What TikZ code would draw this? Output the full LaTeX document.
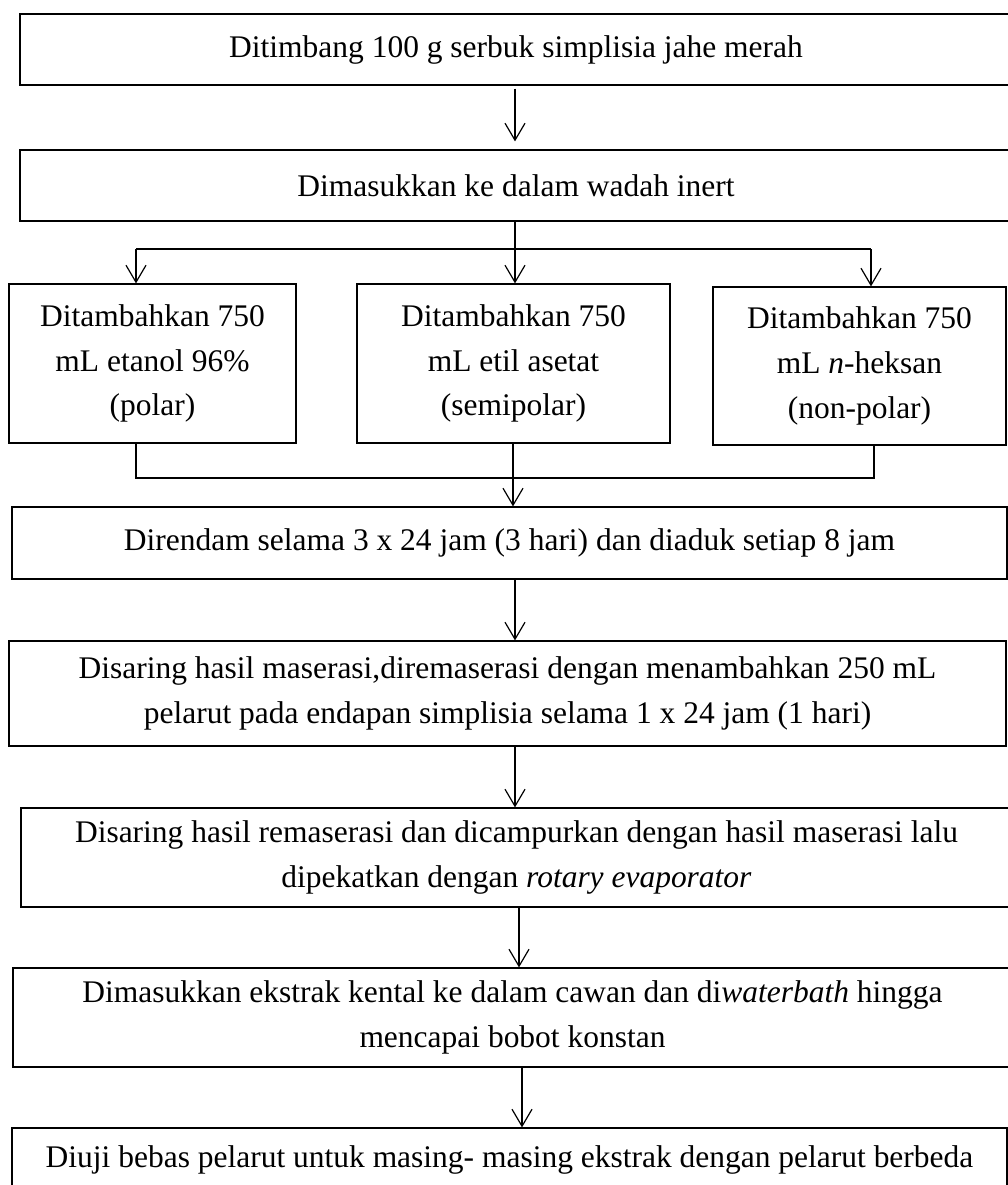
\documentclass[tikz,border=0pt]{standalone}
\usepackage{fontspec}
\setmainfont{Liberation Serif}
\usetikzlibrary{arrows.meta,shapes}
\tikzset{
  stepbox/.style={draw,rectangle,line width=1.2bp,align=center,inner sep=0pt,
    font=\fontsize{31.6}{45}\selectfont},
  flow/.style={line width=1.2bp,-{Straight Barb[length=17bp,width=20bp]}},
  link/.style={line width=1.2bp}
}
\begin{document}
\begin{tikzpicture}

\clip (0bp,0bp) rectangle (1008bp,-1185bp);

\node (S1) at (516bp,-49.5bp)[stepbox,minimum width=992bp,minimum height=71bp] {Ditimbang 100 g serbuk simplisia jahe merah};
\node (S2) at (516bp,-185.5bp)[stepbox,minimum width=992bp,minimum height=71bp] {Dimasukkan ke dalam wadah inert};
\node (P1) at (152.5bp,-363.5bp)[stepbox,minimum width=287bp,minimum height=159bp] {Ditambahkan 750\\ mL etanol 96\%\\ (polar)};
\node (P2) at (513.5bp,-363.5bp)[stepbox,minimum width=313bp,minimum height=159bp] {Ditambahkan 750\\ mL etil asetat\\ (semipolar)};
\node (P3) at (859.5bp,-366bp)[stepbox,minimum width=293bp,minimum height=158bp] {Ditambahkan 750\\ mL \textit{n}-heksan\\ (non-polar)};
\node (S3) at (509.5bp,-543bp)[stepbox,minimum width=995bp,minimum height=72bp] {Direndam selama 3 x 24 jam (3 hari) dan diaduk setiap 8 jam};
\node (S4) at (507.5bp,-693.5bp)[stepbox,minimum width=997bp,minimum height=105bp] {Disaring hasil maserasi,diremaserasi dengan menambahkan 250 mL\\ pelarut pada endapan simplisia selama 1 x 24 jam (1 hari)};
\node (S5) at (516.5bp,-857.5bp)[stepbox,minimum width=991bp,minimum height=99bp] {Disaring hasil remaserasi dan dicampurkan dengan hasil maserasi lalu\\ dipekatkan dengan \textit{rotary evaporator}};
\node (S6) at (512.5bp,-1017.5bp)[stepbox,minimum width=999bp,minimum height=99bp] {Dimasukkan ekstrak kental ke dalam cawan dan di\textit{waterbath} hingga\\ mencapai bobot konstan};
\node (S7) at (509.5bp,-1160bp)[stepbox,minimum width=995bp,minimum height=64bp] {Diuji bebas pelarut untuk masing- masing ekstrak dengan pelarut berbeda};

% split and join points
\coordinate (splitL) at (136bp,-249bp);
\coordinate (splitM) at (515bp,-249bp);
\coordinate (splitR) at (871bp,-249bp);
\coordinate (joinL) at (136bp,-478bp);
\coordinate (joinM) at (513bp,-478bp);
\coordinate (joinR) at (874bp,-478bp);
\coordinate (colA) at (515bp,0bp);
\coordinate (colB) at (519bp,0bp);
\coordinate (colC) at (522bp,0bp);

\draw [flow,shorten <=3bp,shorten >=8bp] (S1.south -| colA) to (S2.north -| colA);
\draw [link] (S2.south -| splitM) to (splitM);
\draw [link] (splitL) to (splitR);
\draw [flow] (splitL) to (P1.north -| splitL);
\draw [flow] (splitM) to (P2.north -| splitM);
\draw [flow] (splitR) to (P3.north -| splitR);
\draw [link] (P1.south -| joinL) to (joinL) to (joinR) to (P3.south -| joinR);
\draw [link] (P2.south -| joinM) to (joinM);
\draw [flow] (joinM) to (S3.north -| joinM);
\draw [flow] (S3.south -| colA) to (S4.north -| colA);
\draw [flow] (S4.south -| colA) to (S5.north -| colA);
\draw [flow] (S5.south -| colB) to (S6.north -| colB);
\draw [flow] (S6.south -| colC) to (S7.north -| colC);
\end{tikzpicture}
\end{document}
